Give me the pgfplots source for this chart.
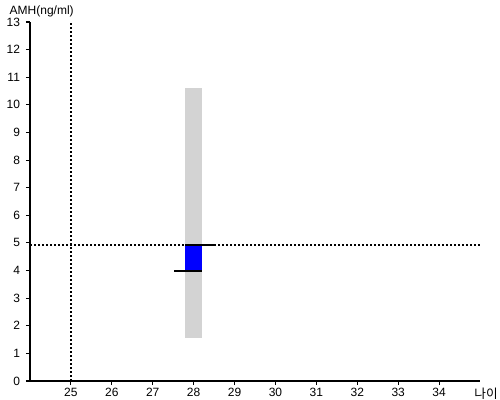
\documentclass[border=0pt]{standalone}
\usepackage{pgfplots}
\pgfplotsset{compat=1.18}
\usepackage{fontspec}
\setmainfont{Liberation Sans}
\newfontfamily\cjk{Noto Sans CJK KR}
\begin{document}
\begin{tikzpicture}
\useasboundingbox (-22.5pt,-14.25pt) rectangle (352.5pt,285.75pt);
\begin{axis}[
  at={(0,0)}, anchor=south west,
  scale only axis,
  width=337.5pt, height=269.25pt,
  xmin=24, xmax=35, ymin=0, ymax=13,
  axis x line=bottom, axis y line=left,
  axis line style={-, line width=1pt},
  xtick={25,...,34}, ytick={0,...,13},
  tick align=outside, major tick length=3pt,
  tick style={black, line width=0.8pt},
  ticklabel style={font=\fontsize{9}{10}\selectfont},
  /pgf/number format/assume math mode=true,
  xticklabel style={yshift=1pt},
  yticklabel style={xshift=-1pt},
  clip=false,
]
% grey range bar
\addplot[fill={rgb,255:red,211;green,211;blue,211}, draw=none] coordinates {(27.8,1.55) (28.2,1.55) (28.2,10.6) (27.8,10.6)} -- cycle;
% blue box
\addplot[fill={rgb,255:red,0;green,0;blue,255}, draw=none] coordinates {(27.8,4.0) (28.2,4.0) (28.2,4.93) (27.8,4.93)} -- cycle;
% reference dotted lines
\addplot[black, line width=1.5pt, dash pattern=on 1.5pt off 1.5pt] coordinates {(25,0) (25,13)};
\addplot[black, line width=1.5pt, dash pattern=on 1.5pt off 1.5pt] coordinates {(24,4.93) (35,4.93)};
% horizontal markers
\addplot[black, line width=1.5pt] coordinates {(27.8,4.93) (28.52,4.93)};
\addplot[black, line width=1.5pt] coordinates {(27.52,4.0) (28.2,4.0)};
\node[anchor=base west, font=\fontsize{9}{10}\selectfont] at ([xshift=-18.75pt,yshift=5.25pt]rel axis cs:0,1) {AMH(ng/ml)};
\node[anchor=center, font=\fontsize{9.5}{10}\cjk] at ([xshift=4.5pt,yshift=-9.75pt]rel axis cs:1,0) {나이};
\end{axis}
\end{tikzpicture}
\end{document}
